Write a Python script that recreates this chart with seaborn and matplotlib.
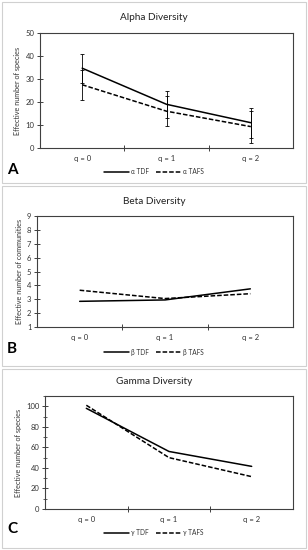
import matplotlib
matplotlib.use("Agg")
import pandas as pd
import seaborn as sns
import matplotlib.pyplot as plt
from matplotlib.patches import Rectangle
from matplotlib.ticker import MultipleLocator, FixedLocator

# values
q_labels = ["q = 0", "q = 1", "q = 2"]

alpha_tdf = [34.7, 19.0, 11.0]
alpha_tdf_err = [6.3, 6.0, 6.5]
alpha_tafs = [27.5, 16.0, 9.3]
alpha_tafs_err = [6.5, 6.5, 7.0]

beta_tdf = [2.85, 2.95, 3.75]
beta_tafs = [3.65, 3.05, 3.4]

gamma_tdf = [98.0, 56.0, 41.5]
gamma_tafs = [101.0, 50.0, 31.5]

W, H = 308, 550
sns.set_style("ticks")
plt.rcParams['font.family'] = ['Lato', 'Open Sans', 'DejaVu Sans']

fig = plt.figure(figsize=(W / 100, H / 100), dpi=100)
fig.patch.set_facecolor("white")

AX_COL = "#404040"


def px_axes(left, top, right, bottom):
    return fig.add_axes([left / W, 1 - bottom / H, (right - left) / W, (bottom - top) / H])


def draw_panel(box, border, title, title_y, letter, letter_y, greek, tdf, tafs,
               ylim, ystep, ylabel, legend_y, minor=None, tdf_err=None, tafs_err=None):
    # grey frame around the panel
    fig.patches.append(Rectangle((2 / W, 1 - border[1] / H), 304 / W, (border[1] - border[0]) / H,
                                 transform=fig.transFigure, fill=False,
                                 edgecolor="#d0d0d0", lw=0.8))
    ax = px_axes(*box)
    n1, n2 = f"{greek} TDF", f"{greek} TAFS"
    df = pd.DataFrame({
        "q": q_labels * 2,
        "value": tdf + tafs,
        "series": [n1] * 3 + [n2] * 3,
    })
    sns.lineplot(data=df, x="q", y="value", style="series", color="black",
                 dashes={n1: "", n2: (3, 1.3)}, lw=1.1, sort=False, ax=ax)
    if tdf_err is not None:
        ax.errorbar(q_labels, tdf, yerr=tdf_err, fmt="none", ecolor="black",
                    elinewidth=0.6, capsize=1.6, capthick=0.6)
        ax.errorbar(q_labels, tafs, yerr=tafs_err, fmt="none", ecolor="black",
                    elinewidth=0.6, capsize=1.6, capthick=0.6)

    handles, labels = ax.get_legend_handles_labels()
    ax.get_legend().remove()
    fig.legend(handles, labels, loc="center", bbox_to_anchor=(0.5, 1 - legend_y / H),
               ncol=2, frameon=False, fontsize=4.7, handlelength=3.8,
               handletextpad=0.3, columnspacing=1.2, labelcolor="#333333")

    ax.set_xlim(-0.5, 2.5)
    ax.set_ylim(*ylim)
    ax.yaxis.set_major_locator(MultipleLocator(ystep))
    if minor:
        ax.yaxis.set_minor_locator(MultipleLocator(minor))
    ax.xaxis.set_minor_locator(FixedLocator([0.5, 1.5]))
    ax.tick_params(axis="x", which="major", length=0, labelsize=5.5, pad=5, labelcolor="#333333")
    ax.tick_params(axis="x", which="minor", length=4, width=0.7, direction="inout", color=AX_COL)
    ax.tick_params(axis="y", which="major", length=4, width=0.7, direction="inout",
                   labelsize=5.5, pad=2, color=AX_COL, labelcolor="#333333")
    ax.tick_params(axis="y", which="minor", length=3, width=0.6, direction="inout", color=AX_COL)
    ax.set_xlabel("")
    ax.set_ylabel(ylabel, fontsize=5.2, color="#333333", labelpad=3)
    for s in ax.spines.values():
        s.set_color(AX_COL)
        s.set_linewidth(0.8)

    fig.text(0.5, 1 - title_y / H, title, ha="center", va="center", fontsize=7.2, color="#222222")
    fig.text(12 / W, 1 - letter_y / H, letter, ha="center", va="center", fontsize=11,
             weight="bold", color="black")
    return ax


draw_panel((40, 33, 293, 148), (2, 183), "Alpha Diversity", 18, "A", 170, "α",
           alpha_tdf, alpha_tafs, (0, 50), 10, "Effective number of species", 172,
           tdf_err=alpha_tdf_err, tafs_err=alpha_tafs_err)
draw_panel((37, 216, 293, 327), (186, 366), "Beta Diversity", 201, "B", 349, "β",
           beta_tdf, beta_tafs, (1, 9), 1, "Effective number of communities", 352)
draw_panel((45, 396, 293, 509), (369, 548), "Gamma Diversity", 381, "C", 529, "γ",
           gamma_tdf, gamma_tafs, (0, 110), 20, "Effective number of species", 533, minor=10)

plt.savefig("out.png", dpi=100)
